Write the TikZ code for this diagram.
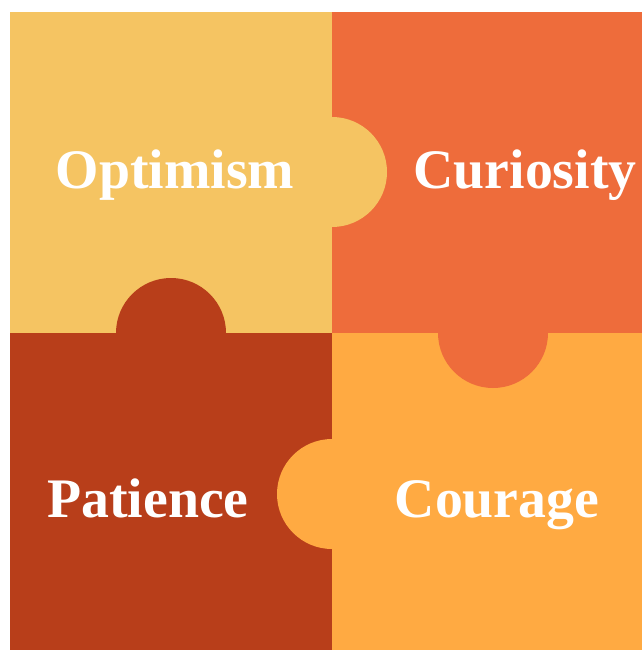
\documentclass[tikz,border=0pt]{standalone}
\usepackage{fontspec}
\setmainfont{Liberation Serif}
\definecolor{pyellow}{HTML}{F5C462}
\definecolor{pred}{HTML}{EE6C3B}
\definecolor{pdark}{HTML}{B83E1A}
\definecolor{porange}{HTML}{FFAA42}
\begin{document}
\begin{tikzpicture}[x=1bp,y=-1bp,
  word/.style={anchor=base,text=white,font=\fontsize{56}{60}\selectfont\bfseries,inner sep=0pt}]
\useasboundingbox (0,0) rectangle (642,650);
\fill[white] (0,0) rectangle (642,650);
% pieces
\fill[pyellow] (10,12) rectangle (332,333);
\fill[pred] (332,12) rectangle (642,333);
\fill[pdark] (10,333) rectangle (332,650);
\fill[porange] (332,333) rectangle (642,650);
% tabs
\fill[pyellow] (332,172) circle[radius=55];
\fill[pdark] (171,333) circle[radius=55];
\fill[pred] (493,333) circle[radius=55];
\fill[porange] (332,494) circle[radius=55];
% labels
\node[word] (opt) at (175,188) {Optimism};
\node[word] (cur) at (525,188) {Curiosity};
\node[word] (pat) at (148,517) {Patience};
\node[word] (cou) at (497,517) {Courage};
\end{tikzpicture}
\end{document}
